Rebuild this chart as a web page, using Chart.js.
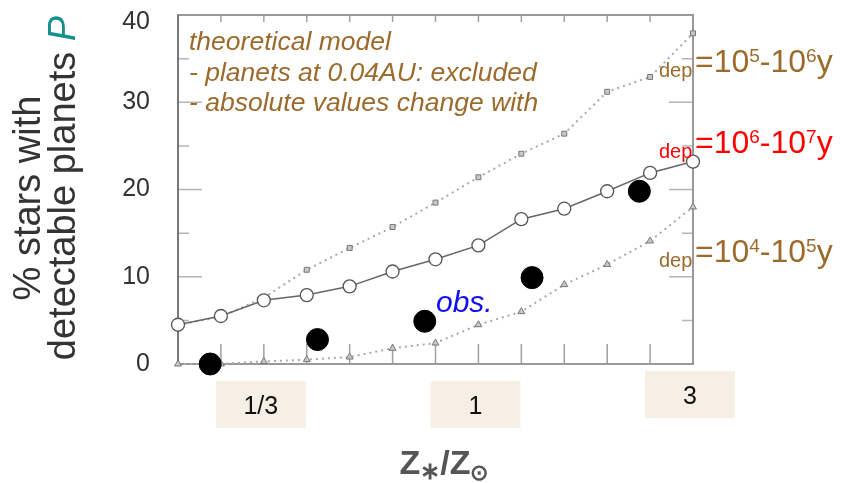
<!DOCTYPE html>
<html>
<head>
<meta charset="utf-8">
<script src="https://cdn.jsdelivr.net/npm/chart.js@4.4.1/dist/chart.umd.min.js"></script>
<style>
    html, body { margin: 0; padding: 0; background: #fff; }
</style>
</head>
<body>
<canvas id="grafico" width="841" height="483"></canvas>
<script>
// log(Z*/Zsun) of the model grid
const metalicity = [-0.7, -0.6, -0.5, -0.4, -0.3, -0.2, -0.1, 0, 0.1, 0.2, 0.3, 0.4, 0.5];
// % of stars with detectable planets for each depletion time
const model6to7 = [4.5, 5.5, 7.3, 7.9, 8.9, 10.6, 12.0, 13.6, 16.6, 17.8, 19.8, 21.9, 23.2];
const model5to6 = [4.5, 5.4, 7.6, 10.8, 13.3, 15.7, 18.5, 21.4, 24.1, 26.4, 31.2, 32.9, 37.9];
const model4to5 = [0, 0, 0.3, 0.5, 0.8, 1.8, 2.4, 4.5, 6.0, 9.1, 11.4, 14.1, 18.0];
// observed fractions
const obsMetalicity = [-0.625, -0.375, -0.125, 0.125, 0.375];
const obsPercent = [0, 2.8, 4.9, 9.9, 19.8];
// axis ticks
const yTicks = [0, 10, 20, 30, 40];
const xTickValues = [-0.5, 0, 0.5];
const xTickLabels = ['1/3', '1', '3'];

const FONT = "'Liberation Sans', Arial, sans-serif";
const BROWN = '#9c6a2c';

const toPoints = (xs, ys) => xs.map((v, i) => ({ x: v, y: ys[i] }));

// draws a row of text pieces with different fonts / colours
function drawRuns(ctx, x, y, runs, align) {
    let total = 0;
    runs.forEach(r => { ctx.font = r.font; total += ctx.measureText(r.t).width; });
    let cx = align === 'center' ? x - total / 2 : x;
    runs.forEach(r => {
        ctx.font = r.font;
        ctx.fillStyle = r.color;
        ctx.fillText(r.t, cx, y + (r.dy || 0));
        cx += ctx.measureText(r.t).width;
    });
}

const framePlugin = {
    id: 'frame',
    beforeDatasetsDraw(chart) {
        const ctx = chart.ctx;
        const { left, right, top, bottom } = chart.chartArea;
        const xs = chart.scales.x, ys = chart.scales.y;
        ctx.save();
        ctx.strokeStyle = '#a0a0a0';
        ctx.lineWidth = 1.5;
        metalicity.forEach(v => {
            const px = xs.getPixelForValue(v);
            ctx.beginPath();
            ctx.moveTo(px, top); ctx.lineTo(px, top + 7);
            ctx.moveTo(px, bottom); ctx.lineTo(px, bottom - 20);
            ctx.stroke();
        });
        ctx.strokeStyle = '#b5b5b5';
        for (let i = 0; i < yTicks.length - 1; i++) {
            [yTicks[i], (yTicks[i] + yTicks[i + 1]) / 2].forEach((v, k) => {
                const py = ys.getPixelForValue(v);
                const len = k === 0 ? 24 : 11;
                ctx.beginPath();
                ctx.moveTo(left, py); ctx.lineTo(left + len, py);
                ctx.moveTo(right, py); ctx.lineTo(right - len, py);
                ctx.stroke();
            });
        }
        ctx.strokeStyle = '#999';
        ctx.lineWidth = 2;
        ctx.strokeRect(left, top, right - left, bottom - top);
        ctx.strokeStyle = '#777';
        ctx.beginPath(); ctx.moveTo(left, top); ctx.lineTo(left, bottom); ctx.stroke();
        ctx.restore();
    },
    afterDraw(chart) {
        const ctx = chart.ctx;
        const xs = chart.scales.x, ys = chart.scales.y;
        ctx.save();

        // y tick labels
        ctx.font = '25px ' + FONT;
        ctx.fillStyle = '#333';
        ctx.textAlign = 'right';
        ctx.textBaseline = 'middle';
        yTicks.forEach(v => {
            ctx.fillText(String(v), 150, Math.max(ys.getPixelForValue(v), 22));
        });

        // x tick labels on beige boxes
        const boxTop = [381, 381, 371];
        ctx.textAlign = 'center';
        xTickLabels.forEach((lab, i) => {
            const px = xs.getPixelForValue(xTickValues[i]) - 3;
            ctx.fillStyle = '#f6efe5';
            ctx.fillRect(px - 45, boxTop[i], 90, 47);
            ctx.fillStyle = '#111';
            ctx.fillText(lab, px, boxTop[i] + 26);
        });
        ctx.textAlign = 'left';
        ctx.textBaseline = 'alphabetic';

        // x title
        const bold = s => 'bold ' + s + 'px ' + FONT;
        drawRuns(ctx, 444, 474, [
            { t: 'Z', font: bold(34), color: '#555' },
            { t: '\u2217', font: bold(24), color: '#555', dy: 5 },
            { t: '/Z', font: bold(34), color: '#555' },
            { t: '\u2299', font: bold(22), color: '#555', dy: 6 }
        ], 'center');

        // y title, rotated
        ctx.save();
        ctx.translate(40, 198);
        ctx.rotate(-Math.PI / 2);
        drawRuns(ctx, 0, 0, [{ t: '% stars with', font: '38px ' + FONT, color: '#333' }], 'center');
        ctx.restore();
        ctx.save();
        ctx.translate(75, 188);
        ctx.rotate(-Math.PI / 2);
        drawRuns(ctx, 0, 0, [
            { t: 'detectable planets ', font: '38px ' + FONT, color: '#333' },
            { t: 'P', font: 'italic 38px ' + FONT, color: '#178f8f' }
        ], 'center');
        ctx.restore();

        // model note
        ctx.font = 'italic 26.5px ' + FONT;
        ctx.fillStyle = BROWN;
        ctx.fillText('theoretical model', 189, 50);
        ctx.fillText('- planets at 0.04AU: excluded', 189, 81);
        ctx.fillText('- absolute values change with', 189, 111);

        // depletion time labels
        const depLabel = (color, base, a, b) => {
            drawRuns(ctx, 659, base + 5, [{ t: 'dep', font: '20px ' + FONT, color: color }]);
            drawRuns(ctx, 695, base, [
                { t: '=10', font: '32px ' + FONT, color: color },
                { t: a, font: '19px ' + FONT, color: color, dy: -10 },
                { t: '-10', font: '32px ' + FONT, color: color },
                { t: b, font: '19px ' + FONT, color: color, dy: -10 },
                { t: 'y', font: '32px ' + FONT, color: color }
            ]);
        };
        depLabel(BROWN, 72, '5', '6');
        depLabel('#ff0000', 153, '6', '7');
        depLabel(BROWN, 262, '4', '5');

        // obs. label
        ctx.font = 'italic 30px ' + FONT;
        ctx.fillStyle = '#1010f0';
        ctx.fillText('obs.', 436, 312);
        ctx.restore();
    }
};

new Chart(document.getElementById('grafico'), {
    type: 'scatter',
    data: {
        datasets: [
            {
                label: 'obs.',
                data: toPoints(obsMetalicity, obsPercent),
                showLine: false,
                pointRadius: 11,
                backgroundColor: '#000',
                borderColor: '#000',
                clip: false
            },
            {
                label: 'dep=10^6-10^7y',
                data: toPoints(metalicity, model6to7),
                showLine: true,
                borderColor: '#666',
                borderWidth: 1.5,
                pointStyle: 'circle',
                pointRadius: 6.5,
                pointBackgroundColor: '#fff',
                pointBorderColor: '#555',
                pointBorderWidth: 1.3,
                clip: false
            },
            {
                label: 'dep=10^5-10^6y',
                data: toPoints(metalicity, model5to6),
                showLine: true,
                borderColor: '#a8a8a8',
                borderWidth: 2,
                borderDash: [2, 4],
                pointStyle: 'rect',
                pointRadius: 3.5,
                pointBackgroundColor: '#c8c8c8',
                pointBorderColor: '#777',
                pointBorderWidth: 1,
                clip: false
            },
            {
                label: 'dep=10^4-10^5y',
                data: toPoints(metalicity, model4to5),
                showLine: true,
                borderColor: '#a8a8a8',
                borderWidth: 2,
                borderDash: [2, 4],
                pointStyle: 'triangle',
                pointRadius: 4,
                pointBackgroundColor: '#c8c8c8',
                pointBorderColor: '#777',
                pointBorderWidth: 1,
                clip: false
            }
        ]
    },
    options: {
        responsive: false,
        animation: false,
        events: [],
        devicePixelRatio: 1,
        layout: { padding: { left: 178, right: 148, top: 15, bottom: 119 } },
        plugins: {
            legend: { display: false },
            tooltip: { enabled: false }
        },
        scales: {
            x: { type: 'linear', min: -0.7, max: 0.5, display: false },
            y: { type: 'linear', min: 0, max: 40, display: false }
        }
    },
    plugins: [framePlugin]
});
</script>
</body>
</html>
